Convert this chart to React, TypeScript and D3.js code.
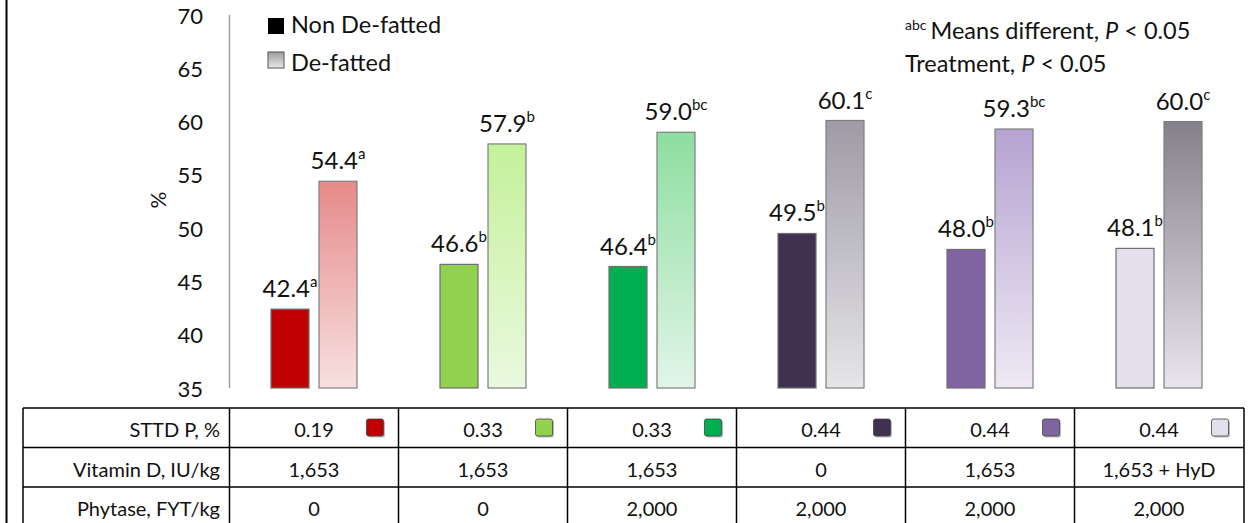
import * as d3 from "d3";

// treatment groups (left to right)
const groups = ["T1", "T2", "T3", "T4", "T5", "T6"];
const nonDefatted = [42.4, 46.6, 46.4, 49.5, 48.0, 48.1];
const nonDefattedSup = ["a", "b", "b", "b", "b", "b"];
const defatted = [54.4, 57.9, 59.0, 60.1, 59.3, 60.0];
const defattedSup = ["a", "b", "bc", "c", "bc", "c"];
const yTicks = [35, 40, 45, 50, 55, 60, 65, 70];

// table rows
const rowLabels = ["STTD P, %", "Vitamin D, IU/kg", "Phytase, FYT/kg"];
const sttdP = ["0.19", "0.33", "0.33", "0.44", "0.44", "0.44"];
const vitaminD = ["1,653", "1,653", "1,653", "0", "1,653", "1,653 + HyD"];
const phytase = ["0", "0", "2,000", "2,000", "2,000", "2,000"];

// colours per group: solid (non de-fatted), gradient top/bottom (de-fatted)
const solidColors = ["#C00000", "#92D050", "#00B050", "#403151", "#8064A2", "#E4DFEC"];
const gradTop = ["#E68A8A", "#C4F19A", "#8DDEA0", "#9F9BA6", "#B6A3D1", "#84818A"];
const gradBottom = ["#F8E0E0", "#EAF9DF", "#E2F5E8", "#E6E5E8", "#EEE9F4", "#E8E5EC"];

const FONT = "Lato, 'Open Sans', sans-serif";

export default function App() {
  const width = 1249;
  const height = 523;

  const x = d3.scaleBand<string>().domain(groups).range([229.5, 1243.5]).padding(0);
  const inner = d3
    .scaleBand<string>()
    .domain(["non", "de"])
    .range([-43, 43])
    .paddingInner(10 / 48)
    .paddingOuter(0);
  const y = d3.scaleLinear().domain([35, 70]).range([388, 15]);

  const bw = inner.bandwidth();
  const tableTop = 408;
  const rowH = 39.5;
  const tableLeft = 23;
  const rows = [sttdP, vitaminD, phytase];

  const label = (v: number, sup: string, cx: number) => (
    <text x={cx} y={y(v) - 12} textAnchor="middle" fontSize={24} fill="#111">
      {v.toFixed(1)}
      <tspan fontSize={15} dy={-10}>
        {sup}
      </tspan>
    </text>
  );

  return (
    <svg
      width={width}
      height={height}
      style={{ position: "absolute", left: 0, top: 0, background: "#fff" }}
      fontFamily={FONT}
    >
      <defs>
        {groups.map((g, i) => (
          <linearGradient key={g} id={`grad-${i}`} x1="0" y1="0" x2="0" y2="1">
            <stop offset="0%" stopColor={gradTop[i]} />
            <stop offset="100%" stopColor={gradBottom[i]} />
          </linearGradient>
        ))}
        <linearGradient id="legend-grad" x1="0" y1="0" x2="0" y2="1">
          <stop offset="0%" stopColor="#9C9C9C" />
          <stop offset="100%" stopColor="#E8E8E8" />
        </linearGradient>
      </defs>

      {/* left frame border */}
      <line x1={6.5} x2={6.5} y1={0} y2={height} stroke="#000" strokeWidth={2} />

      {/* y axis */}
      <line x1={229.5} x2={229.5} y1={y(70)} y2={y(35)} stroke="#A0A0A0" strokeWidth={1.5} />
      {yTicks.map((t) => (
        <text
          key={t}
          x={203}
          y={y(t)}
          textAnchor="end"
          dominantBaseline="central"
          fontSize={22}
          fill="#111"
        >
          {t}
        </text>
      ))}
      <text
        transform={`translate(157,200) rotate(-90)`}
        textAnchor="middle"
        dominantBaseline="central"
        fontSize={21}
        fill="#111"
      >
        %
      </text>

      {/* bars */}
      {groups.map((g, i) => {
        const cx = (x(g) || 0) + x.bandwidth() / 2;
        const x0 = cx + (inner("non") || 0);
        const x1 = cx + (inner("de") || 0);
        return (
          <g key={g}>
            <rect
              x={x0}
              y={y(nonDefatted[i])}
              width={bw}
              height={y(35) - y(nonDefatted[i])}
              fill={solidColors[i]}
              stroke="#6f6f6f"
              strokeWidth={1.2}
            />
            <rect
              x={x1}
              y={y(defatted[i])}
              width={bw}
              height={y(35) - y(defatted[i])}
              fill={`url(#grad-${i})`}
              stroke="#7f7f7f"
              strokeWidth={1.2}
            />
            {label(nonDefatted[i], nonDefattedSup[i], x0 + bw / 2)}
            {label(defatted[i], defattedSup[i], x1 + bw / 2)}
          </g>
        );
      })}

      {/* legend */}
      <rect x={268} y={18} width={16} height={16} fill="#000" />
      <text x={291} y={33} fontSize={23.5} fill="#111">
        Non De-fatted
      </text>
      <rect x={268} y={52} width={16} height={16} fill="url(#legend-grad)" stroke="#555" strokeWidth={1} />
      <text x={291} y={71} fontSize={23.5} fill="#111">
        De-fatted
      </text>

      {/* notes */}
      <text x={905} y={39} fontSize={23.5} fill="#111">
        <tspan fontSize={14} dy={-9}>
          abc
        </tspan>
        <tspan dy={9} dx={4}>
          Means different,{" "}
        </tspan>
        <tspan fontStyle="italic">P</tspan>
        <tspan> &lt; 0.05</tspan>
      </text>
      <text x={905} y={72} fontSize={23.5} fill="#111">
        Treatment, <tspan fontStyle="italic">P</tspan> &lt; 0.05
      </text>

      {/* table */}
      <g stroke="#000" strokeWidth={1.5}>
        {[0, 1, 2].map((r) => (
          <line
            key={`h${r}`}
            x1={tableLeft}
            x2={1244}
            y1={tableTop + r * rowH}
            y2={tableTop + r * rowH}
          />
        ))}
        <line x1={tableLeft} x2={tableLeft} y1={tableTop} y2={height + 5} />
        {groups.map((g) => (
          <line
            key={`v${g}`}
            x1={x(g) || 0}
            x2={x(g) || 0}
            y1={tableTop}
            y2={height + 5}
          />
        ))}
        <line x1={1244} x2={1244} y1={tableTop} y2={height + 5} />
      </g>
      {rowLabels.map((lbl, r) => (
        <text
          key={lbl}
          x={220}
          y={tableTop + r * rowH + 29}
          textAnchor="end"
          fontSize={20}
          fill="#111"
        >
          {lbl}
        </text>
      ))}
      {rows.map((row, r) =>
        row.map((v, i) => (
          <text
            key={`${r}-${i}`}
            x={(x(groups[i]) || 0) + x.bandwidth() / 2}
            y={tableTop + r * rowH + 29}
            textAnchor="middle"
            fontSize={20}
            fill="#111"
          >
            {v}
          </text>
        ))
      )}
      {/* colour swatches */}
      {groups.map((g, i) => {
        const sx = (x(g) || 0) + x.bandwidth() - 32;
        return (
          <g key={`sw${g}`}>
            <rect x={sx + 1.5} y={420.5} width={17} height={17} rx={2} fill="#bbb" />
            <rect x={sx} y={419} width={17} height={17} rx={2} fill={solidColors[i]} stroke="#444" strokeWidth={0.8} />
          </g>
        );
      })}
    </svg>
  );
}
